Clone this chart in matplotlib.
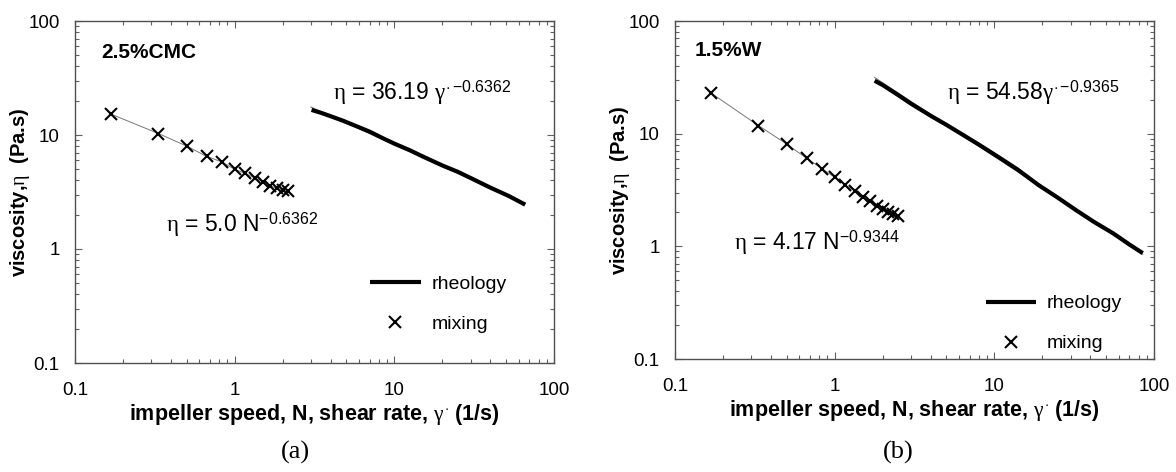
import matplotlib
matplotlib.use('Agg')
import matplotlib.pyplot as plt
from matplotlib.ticker import LogLocator, FuncFormatter, NullFormatter

plt.rcParams['font.family'] = ['Liberation Sans', 'DejaVu Sans']
plt.rcParams['mathtext.fontset'] = 'custom'
plt.rcParams['mathtext.rm'] = 'Liberation Sans'
plt.rcParams['mathtext.it'] = 'Liberation Serif'
plt.rcParams['mathtext.bf'] = 'Liberation Sans:bold'

# (a) 2.5% CMC
mix_a_N = [0.167, 0.333, 0.5, 0.667, 0.833, 1.0, 1.167, 1.333, 1.5, 1.667, 1.833, 2.0, 2.167]
mix_a_eta = [15.3, 10.3, 8.0, 6.5, 5.8, 5.0, 4.6, 4.2, 3.9, 3.6, 3.4, 3.3, 3.2]
rheo_a_rate = [3.03, 3.5, 4.0, 4.8, 6.0, 7.0, 8.5, 10, 12.5, 15, 20, 25, 30, 40, 52, 66]
rheo_a_eta = [16.6, 15.6, 14.6, 13.3, 11.7, 10.7, 9.35, 8.4, 7.35, 6.5, 5.4, 4.75, 4.2, 3.45, 2.92, 2.45]
fit_a_rate = [3.0, 66]
fit_a_eta = [17.6, 2.5]

# (b) 1.5% W
mix_b_N = [0.167, 0.333, 0.5, 0.667, 0.833, 1.0, 1.167, 1.333, 1.5, 1.667, 1.833, 2.0, 2.167, 2.333, 2.5]
mix_b_eta = [23.1, 11.8, 8.1, 6.05, 4.9, 4.1, 3.5, 3.1, 2.75, 2.5, 2.3, 2.15, 2.02, 1.93, 1.85]
rheo_b_rate = [1.78, 2.0, 2.5, 3.0, 4.0, 5.0, 6.4, 8.0, 11.0, 14, 18.9, 25, 32.4, 42, 55.7, 70, 85]
rheo_b_eta = [29.5, 27.0, 22.0, 18.5, 14.4, 12.0, 9.7, 8.0, 6.0, 4.8, 3.5, 2.7, 2.1, 1.65, 1.3, 1.04, 0.87]
fit_b_rate = [1.78, 85]
fit_b_eta = [31.5, 0.85]

xlabel = r'impeller speed, N, shear rate, $\gamma^{\cdot}$ (1/s)'
ylabel = r'viscosity,$\eta$  (Pa.s)'

fig = plt.figure(figsize=(11.76, 4.72), dpi=100)
ax_a = fig.add_axes([75 / 1176, 1 - 363 / 472, 479 / 1176, 342 / 472])
ax_b = fig.add_axes([675 / 1176, 1 - 359 / 472, 479 / 1176, 338 / 472])


def style_axes(ax):
    ax.set_xscale('log')
    ax.set_yscale('log')
    ax.set_xlim(0.1, 100)
    ax.set_ylim(0.1, 100)
    fmt = FuncFormatter(lambda v, p: f'{v:g}')
    for axis in (ax.xaxis, ax.yaxis):
        axis.set_major_locator(LogLocator(base=10))
        axis.set_minor_locator(LogLocator(base=10, subs=range(2, 10)))
        axis.set_major_formatter(fmt)
        axis.set_minor_formatter(NullFormatter())
    ax.tick_params(which='both', direction='in', top=True, right=True, colors='#606060',
                   labelcolor='black', labelsize=13.5)
    ax.tick_params(which='major', length=5, width=0.8)
    ax.tick_params(which='minor', length=3, width=0.8)
    ax.tick_params(axis='x', pad=14)
    ax.tick_params(axis='y', pad=11)
    for s in ax.spines.values():
        s.set_color('#505050')
        s.set_linewidth(1.0)
    ax.set_xlabel(xlabel, fontsize=15.5, fontweight='bold', labelpad=2)
    ax.set_ylabel(ylabel, fontsize=14.5, fontweight='bold')
    ax.yaxis.set_label_coords(-0.09, 0.5)


def draw_panel(ax, mix_N, mix_eta, rheo_x, rheo_y, fit_x, fit_y):
    ax.plot(fit_x, fit_y, color='#777777', lw=0.8, zorder=2)
    rheo, = ax.plot(rheo_x, rheo_y, color='black', lw=3.0, solid_capstyle='butt',
                    zorder=3, label='rheology')
    ax.plot(mix_N, mix_eta, color='#777777', lw=0.7, zorder=2)
    mix, = ax.plot(mix_N, mix_eta, ls='none', marker='x', ms=8.5, mew=1.5,
                   color='black', zorder=4, label='mixing')
    return rheo, mix


for ax in (ax_a, ax_b):
    style_axes(ax)

h_a = draw_panel(ax_a, mix_a_N, mix_a_eta, rheo_a_rate, rheo_a_eta, fit_a_rate, fit_a_eta)
h_b = draw_panel(ax_b, mix_b_N, mix_b_eta, rheo_b_rate, rheo_b_eta, fit_b_rate, fit_b_eta)

# panel texts
ax_a.text(0.054, 0.907, '2.5%CMC', transform=ax_a.transAxes, fontsize=15,
          fontweight='bold', va='center', ha='left')
ax_a.text(0.539, 0.769, r'$\eta$ = 36.19 $\gamma^{\cdot\,\mathrm{-}0.6362}$',
          transform=ax_a.transAxes, fontsize=16.5, va='baseline')
ax_a.text(0.191, 0.384, r'$\eta$ = 5.0 N$^{\mathrm{-}0.6362}$',
          transform=ax_a.transAxes, fontsize=16.5, va='baseline')

ax_b.text(0.040, 0.914, '1.5%W', transform=ax_b.transAxes, fontsize=15,
          fontweight='bold', va='center', ha='left')
ax_b.text(0.567, 0.766, r'$\eta$ = 54.58$\gamma^{\cdot\,\mathrm{-}0.9365}$',
          transform=ax_b.transAxes, fontsize=16.5, va='baseline')
ax_b.text(0.124, 0.322, r'$\eta$ = 4.17 N$^{\mathrm{-}0.9344}$',
          transform=ax_b.transAxes, fontsize=16.5, va='baseline')

# legends
for ax, hs, anchor in ((ax_a, h_a, (0.616, 0.257)), (ax_b, h_b, (0.649, 0.19))):
    ax.legend(handles=list(hs), loc='upper left', bbox_to_anchor=anchor, frameon=False,
              fontsize=14, borderpad=0, borderaxespad=0, handlelength=2.6,
              handletextpad=0.55, labelspacing=1.15, numpoints=1)

fig.text(295 / 1176, 1 - 452 / 472, '(a)', fontsize=19, family='Liberation Serif',
         ha='center', va='center')
fig.text(898 / 1176, 1 - 452 / 472, '(b)', fontsize=19, family='Liberation Serif',
         ha='center', va='center')

fig.savefig('out.png', dpi=100)
